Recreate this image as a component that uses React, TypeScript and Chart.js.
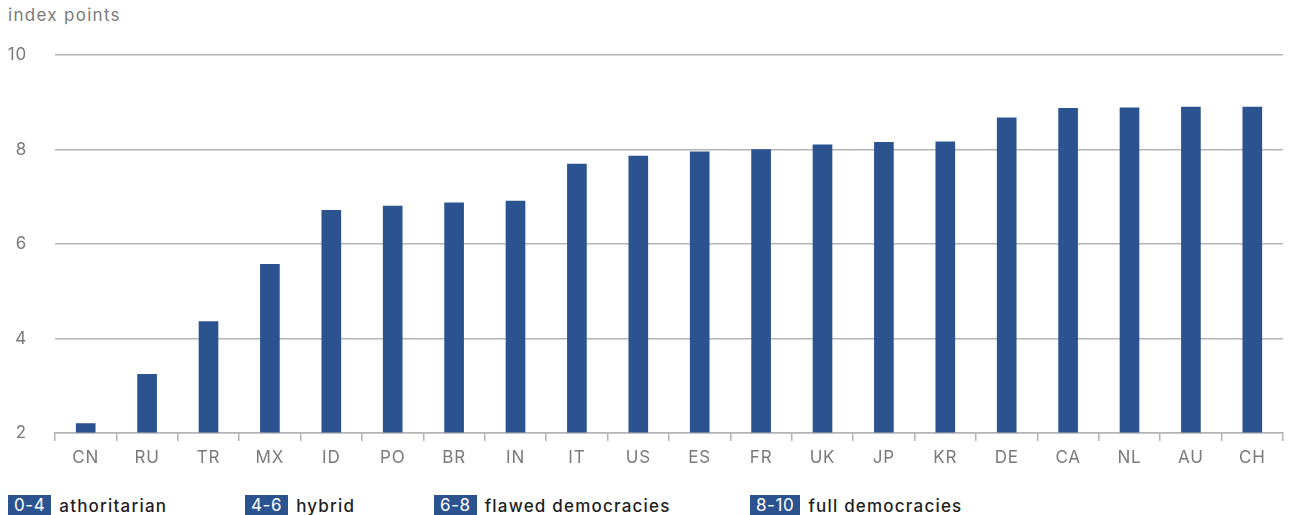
import React, { useEffect, useRef } from "react";
import { Chart, registerables } from "chart.js";

Chart.register(...registerables);

const countries = ["CN", "RU", "TR", "MX", "ID", "PO", "BR", "IN", "IT", "US", "ES", "FR", "UK", "JP", "KR", "DE", "CA", "NL", "AU", "CH"];
const scores = [2.2, 3.24, 4.36, 5.57, 6.71, 6.8, 6.87, 6.91, 7.69, 7.86, 7.95, 8.0, 8.1, 8.15, 8.16, 8.67, 8.87, 8.88, 8.9, 8.9];
const yTicks = [2, 4, 6, 8, 10];
const legendRanges = ["0-4", "4-6", "6-8", "8-10"];
const legendNames = ["athoritarian", "hybrid", "flawed democracies", "full democracies"];
const legendLeft = [8, 245, 434, 750];

const BAR = "#2b5390";
const GRID = "#b4b4b4";
const FONT = "Inter, 'Noto Sans', sans-serif";

// widen the axis lettering a little
const spacing = {
  id: "letterSpacing",
  beforeDraw: (chart: any) => {
    chart.ctx.letterSpacing = "0.8px";
  },
};

export default function App() {
  const ref = useRef<HTMLCanvasElement | null>(null);

  useEffect(() => {
    if (!ref.current) return;
    const chart = new Chart(ref.current, {
      type: "bar",
      data: {
        labels: countries,
        datasets: [
          {
            data: scores,
            backgroundColor: BAR,
            barThickness: 19,
            base: 2,
          },
        ],
      },
      plugins: [spacing],
      options: {
        animation: false,
        responsive: false,
        maintainAspectRatio: false,
        layout: { padding: { left: 8, right: 7, top: 55, bottom: 2 } },
        plugins: { legend: { display: false }, tooltip: { enabled: false } },
        scales: {
          x: {
            grid: {
              offset: true,
              drawOnChartArea: false,
              drawTicks: true,
              tickLength: 8,
              color: GRID,
              lineWidth: 1.5,
            },
            border: { display: true, color: GRID, width: 1.5 },
            ticks: {
              color: "#7a7a7a",
              font: { family: FONT, size: 17 },
              padding: 7,
              maxRotation: 0,
            },
            afterFit: (s: any) => {
              s.height = 40;
            },
          },
          y: {
            min: 2,
            max: 10,
            afterBuildTicks: (s: any) => {
              s.ticks = yTicks.map((v) => ({ value: v }));
            },
            grid: { color: GRID, lineWidth: 1.5, drawTicks: false },
            border: { display: false },
            ticks: {
              color: "#7a7a7a",
              font: { family: FONT, size: 17 },
              padding: 28,
            },
            afterFit: (s: any) => {
              s.width = 47;
            },
          },
        },
      },
    });
    return () => chart.destroy();
  }, []);

  return (
    <div style={{ position: "absolute", left: 0, top: 0, width: 1290, height: 515, background: "#fff", fontFamily: FONT, overflow: "hidden" }}>
      <div style={{ position: "absolute", left: 8, top: 5, fontSize: 17, color: "#7a7a7a", letterSpacing: 1.3 }}>index points</div>
      <canvas ref={ref} width={1290} height={475} style={{ position: "absolute", left: 0, top: 0 }} />
      {legendRanges.map((r, i) => (
        <div key={r} style={{ position: "absolute", left: legendLeft[i], top: 495, height: 21, display: "flex", alignItems: "center" }}>
          <span style={{ background: BAR, color: "#fff", fontSize: 17, padding: "0 6px", height: 21, lineHeight: "21px", letterSpacing: 0.6 }}>{r}</span>
          <span style={{ marginLeft: 8, color: "#1e1e1e", fontSize: 17, fontWeight: 500, letterSpacing: 1.2 }}>{legendNames[i]}</span>
        </div>
      ))}
    </div>
  );
}
